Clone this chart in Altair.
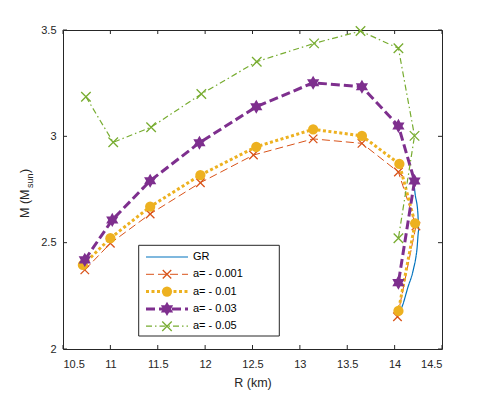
import altair as alt
import pandas as pd

# ---------------- data ----------------
gr_R = [14.20, 14.215, 14.245, 14.255, 14.235, 14.197, 14.14, 14.085, 14.05]
gr_M = [2.80, 2.734, 2.64, 2.56, 2.466, 2.372, 2.29, 2.207, 2.17]

a001_R = [10.73, 11.0, 11.42, 11.95, 12.51, 13.14, 13.655, 14.04, 14.225, 14.03]
a001_M = [2.372, 2.497, 2.635, 2.782, 2.912, 2.988, 2.967, 2.832, 2.578, 2.152]

a01_R = [10.71, 11.0, 11.42, 11.95, 12.54, 13.14, 13.655, 14.05, 14.216, 14.04]
a01_M = [2.395, 2.521, 2.669, 2.818, 2.951, 3.033, 3.002, 2.870, 2.591, 2.179]

a03_R = [10.73, 11.02, 11.42, 11.94, 12.54, 13.14, 13.655, 14.04, 14.21, 14.04]
a03_M = [2.419, 2.607, 2.791, 2.970, 3.139, 3.252, 3.233, 3.049, 2.790, 2.312]

a05_R = [10.742, 11.03, 11.43, 11.96, 12.545, 13.15, 13.64, 14.04, 14.21, 14.04]
a05_M = [3.186, 2.972, 3.043, 3.199, 3.351, 3.437, 3.495, 3.414, 3.002, 2.521]

labels = ["GR", "a= - 0.001", "a= - 0.01", "a= - 0.03", "a= - 0.05"]
x_ticks = [10.5, 11, 11.5, 12, 12.5, 13, 13.5, 14, 14.5]
y_ticks = [2, 2.5, 3, 3.5]

# ---------------- styles ----------------
W, H = 379, 319
AX = "#262626"
FONT = "Liberation Sans"
XMARK = "M-1,-1L1,1M-1,1L1,-1"
HEXA = ("M0,-1L0.289,-0.5L0.866,-0.5L0.577,0L0.866,0.5L0.289,0.5L0,1"
        "L-0.289,0.5L-0.866,0.5L-0.577,0L-0.866,-0.5L-0.289,-0.5Z")

series = [
    dict(R=gr_R, M=gr_M, color="#0072BD", dash=[1, 0], width=1.2, shape=None),
    dict(R=a001_R, M=a001_M, color="#D95319", dash=[8, 4], width=1.0,
         shape=XMARK, filled=False, size=72, sw=1.3),
    dict(R=a01_R, M=a01_M, color="#EDB120", dash=[3, 2.5], width=3.0,
         shape="circle", filled=True, size=105, sw=1),
    dict(R=a03_R, M=a03_M, color="#7E2F8E", dash=[9, 4], width=3.0,
         shape=HEXA, filled=True, size=200, sw=1.5),
    dict(R=a05_R, M=a05_M, color="#77AC30", dash=[6, 3, 1.5, 3], width=1.2,
         shape=XMARK, filled=False, size=90, sw=1.3),
]

xscale = alt.Scale(domain=[10.5, 14.5], nice=False, zero=False)
yscale = alt.Scale(domain=[2, 3.5], nice=False, zero=False)
xaxis = alt.Axis(values=x_ticks, labelExpr="datum.value", title="R (km)",
                 grid=False, domain=False, ticks=False, labelPadding=9,
                 labelFontSize=11, labelColor=AX, labelFont=FONT,
                 titleFontSize=12.5, titleFont=FONT, titleColor=AX,
                 titleFontWeight="normal", titlePadding=7)
yaxis = alt.Axis(values=y_ticks, labelExpr="datum.value", title=None,
                 grid=False, domain=False, ticks=False, labelPadding=7,
                 labelFontSize=11, labelColor=AX, labelFont=FONT)

X = alt.X("R:Q", scale=xscale, axis=xaxis)
Y = alt.Y("M:Q", scale=yscale, axis=yaxis)

layers = []
for s in series:
    df = pd.DataFrame({"R": s["R"], "M": s["M"], "i": list(range(len(s["R"])))})
    base = alt.Chart(df)
    layers.append(
        base.mark_line(color=s["color"], strokeDash=s["dash"], strokeWidth=s["width"],
                       interpolate="monotone" if s["shape"] is None else "linear")
        .encode(x=X, y=Y, order="i:Q")
    )
    if s["shape"] is not None:
        layers.append(
            base.mark_point(shape=s["shape"], filled=s["filled"], color=s["color"],
                            size=s["size"], strokeWidth=s["sw"], opacity=1)
            .encode(x=X, y=Y)
        )

# inward ticks on all four sides
xt = pd.DataFrame({"R": x_ticks})
yt = pd.DataFrame({"M": y_ticks})
tick_style = dict(color=AX, strokeWidth=1)
layers += [
    alt.Chart(xt).mark_rule(**tick_style).encode(x=X, y=alt.value(H), y2=alt.value(H - 4)),
    alt.Chart(xt).mark_rule(**tick_style).encode(x=X, y=alt.value(0), y2=alt.value(4)),
    alt.Chart(yt).mark_rule(**tick_style).encode(y=Y, x=alt.value(0), x2=alt.value(4)),
    alt.Chart(yt).mark_rule(**tick_style).encode(y=Y, x=alt.value(W), x2=alt.value(W - 4)),
]

one = alt.Data(values=[{}])

# y-axis title with subscript
layers += [
    alt.Chart(one).mark_text(text="M (M", angle=270, align="left", baseline="middle",
                             fontSize=12.5, font=FONT, color=AX)
    .encode(x=alt.value(-38), y=alt.value(188)),
    alt.Chart(one).mark_text(text="sun", angle=270, align="left", baseline="middle",
                             fontSize=9, font=FONT, color=AX)
    .encode(x=alt.value(-33), y=alt.value(158)),
    alt.Chart(one).mark_text(text=")", angle=270, align="left", baseline="middle",
                             fontSize=12.5, font=FONT, color=AX)
    .encode(x=alt.value(-38), y=alt.value(143)),
]

# legend
lx0, lx1, ly0, ly1 = 75.7, 216.3, 215.3, 306
layers.append(
    alt.Chart(one).mark_rect(fill="white", stroke=AX, strokeWidth=1)
    .encode(x=alt.value(lx0), x2=alt.value(lx1), y=alt.value(ly0), y2=alt.value(ly1))
)
for k, (s, lab) in enumerate(zip(series, labels)):
    yy = 227 + 17.3 * k
    layers.append(
        alt.Chart(one).mark_rule(color=s["color"], strokeDash=s["dash"], strokeWidth=s["width"])
        .encode(x=alt.value(83), x2=alt.value(125), y=alt.value(yy))
    )
    if s["shape"] is not None:
        layers.append(
            alt.Chart(one).mark_point(shape=s["shape"], filled=s["filled"], color=s["color"],
                                      size=s["size"], strokeWidth=s["sw"], opacity=1)
            .encode(x=alt.value(104), y=alt.value(yy))
        )
    layers.append(
        alt.Chart(one).mark_text(text=lab, align="left", baseline="middle",
                                 fontSize=11, font=FONT, color="black")
        .encode(x=alt.value(130), y=alt.value(yy))
    )

chart = (
    alt.layer(*layers)
    .properties(width=W, height=H,
                autosize=alt.AutoSizeParams(type="none"),
                padding={"left": 55, "top": 22, "right": 30, "bottom": 45},
                background="white")
    .configure_view(stroke=AX, strokeWidth=1)
)

chart.save("out.html", embed_options={"renderer": "svg", "actions": False})
